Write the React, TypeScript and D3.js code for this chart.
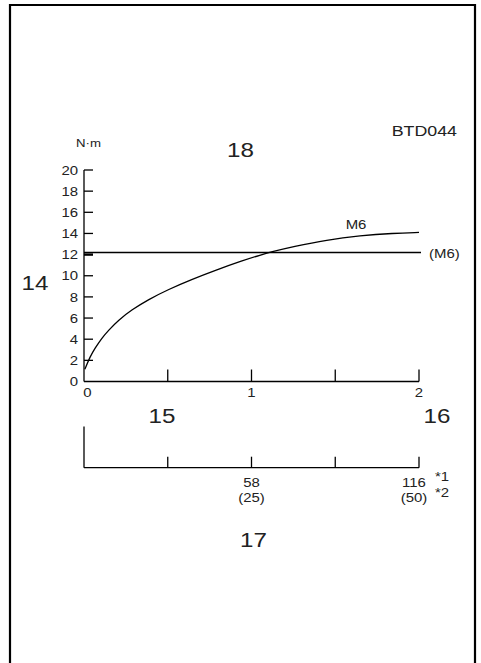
import React from "react";
import * as d3 from "d3";

const curveX = [0.005, 0.036, 0.066, 0.106, 0.145, 0.205, 0.285, 0.384, 0.503, 0.643, 0.782, 0.941, 1.061, 1.11, 1.25, 1.449, 1.648, 1.847, 2.0];
const curveY = [1.15, 2.35, 3.15, 4.1, 4.82, 5.8, 6.78, 7.75, 8.7, 9.65, 10.5, 11.4, 12.0, 12.22, 12.75, 13.39, 13.79, 14.02, 14.1];
const refLineValue = 12.2;
const yTicks = [0, 2, 4, 6, 8, 10, 12, 14, 16, 18, 20];
const xTicks = [0, 0.5, 1, 1.5, 2];
const xTickLabels = ["0", "", "1", "", "2"];
const lowerTicks = [0, 29, 58, 87, 116];
const lowerLabels1 = ["", "", "58", "", "116"];
const lowerLabels2 = ["", "", "(25)", "", "(50)"];

const FONT = "'Liberation Sans', Arial, Helvetica, sans-serif";
const SX = 1.15;

function T(props: { x: number; y: number; size: number; anchor?: string; dy?: string; children: React.ReactNode }) {
  const { x, y, size, anchor = "start", dy, children } = props;
  return (
    <text
      transform={`translate(${x},${y}) scale(${SX},1)`}
      fontSize={size}
      textAnchor={anchor}
      dy={dy}
      fill="#222"
    >
      {children}
    </text>
  );
}

export default function App() {
  const x = d3.scaleLinear().domain([0, 2]).range([84, 419]);
  const y = d3.scaleLinear().domain([0, 20]).range([381.5, 170]);
  const xl = d3.scaleLinear().domain([0, 116]).range([84, 419]);
  const pts: [number, number][] = curveX.map((v, i) => [v, curveY[i]]);
  const line = d3
    .line<[number, number]>()
    .x((d) => x(d[0]))
    .y((d) => y(d[1]))
    .curve(d3.curveBasis);
  const sw = 1.3;
  const lowerAxisY = 467.7;
  return (
    <svg
      width={481}
      height={663}
      style={{ position: "absolute", left: 0, top: 0, background: "#fff" }}
      fontFamily={FONT}
    >
      <rect x={0} y={0} width={481} height={663} fill="#fff" />
      {/* frame */}
      <path d="M10,670 L10,5 L475,5 L475,670" fill="none" stroke="#000" strokeWidth={2.2} />

      {/* headers */}
      <T x={76} y={147} size={11.5}>N·m</T>
      <T x={240.5} y={157} size={21} anchor="middle">18</T>
      <T x={457} y={136} size={15.5} anchor="end">BTD044</T>
      <T x={35} y={290} size={21} anchor="middle">14</T>

      {/* y axis */}
      <line x1={x(0)} x2={x(0)} y1={y(0)} y2={y(20)} stroke="#000" strokeWidth={sw} />
      {yTicks.map((t) => (
        <g key={"yt" + t}>
          {t > 0 && (
            <line x1={x(0)} x2={x(0) + 9} y1={y(t)} y2={y(t)} stroke="#000" strokeWidth={t === 12 ? 2.4 : sw} />
          )}
          <T x={78} y={y(t)} dy="0.36em" size={13} anchor="end">
            {t}
          </T>
        </g>
      ))}

      {/* x axis */}
      <line x1={x(0)} x2={x(2)} y1={y(0)} y2={y(0)} stroke="#000" strokeWidth={sw} />
      {xTicks.map((t, i) => (
        <g key={"xt" + t}>
          {t > 0 && <line x1={x(t)} x2={x(t)} y1={y(0)} y2={y(0) - 12} stroke="#000" strokeWidth={sw} />}
          <T x={x(t) + (t === 0 ? 3.5 : 0)} y={397} size={13} anchor="middle">
            {xTickLabels[i]}
          </T>
        </g>
      ))}

      {/* reference line */}
      <line x1={x(0)} x2={x(2) + 2} y1={y(refLineValue)} y2={y(refLineValue)} stroke="#000" strokeWidth={sw} />
      <T x={429} y={y(refLineValue)} dy="0.4em" size={13}>(M6)</T>

      {/* curve */}
      <path d={line(pts) || ""} fill="none" stroke="#000" strokeWidth={sw} />
      <T x={356} y={229} size={13} anchor="middle">M6</T>

      {/* region labels */}
      <T x={162} y={423} size={21} anchor="middle">15</T>
      <T x={437} y={423} size={21} anchor="middle">16</T>
      <T x={253.5} y={547} size={21} anchor="middle">17</T>

      {/* lower axis */}
      <line x1={xl(0)} x2={xl(0)} y1={426.5} y2={lowerAxisY} stroke="#000" strokeWidth={sw} />
      <line x1={xl(0)} x2={xl(116)} y1={lowerAxisY} y2={lowerAxisY} stroke="#000" strokeWidth={sw} />
      {lowerTicks.map((t, i) => (
        <g key={"lt" + t}>
          {t > 0 && <line x1={xl(t)} x2={xl(t)} y1={lowerAxisY} y2={lowerAxisY - 11} stroke="#000" strokeWidth={sw} />}
          <T x={xl(t) - (t === 116 ? 5 : 0)} y={487} size={13} anchor="middle">
            {lowerLabels1[i]}
          </T>
          <T x={xl(t) - (t === 116 ? 5 : 0)} y={502} size={13} anchor="middle">
            {lowerLabels2[i]}
          </T>
        </g>
      ))}
      <T x={435} y={481} size={13}>*1</T>
      <T x={435} y={497} size={13}>*2</T>
    </svg>
  );
}
